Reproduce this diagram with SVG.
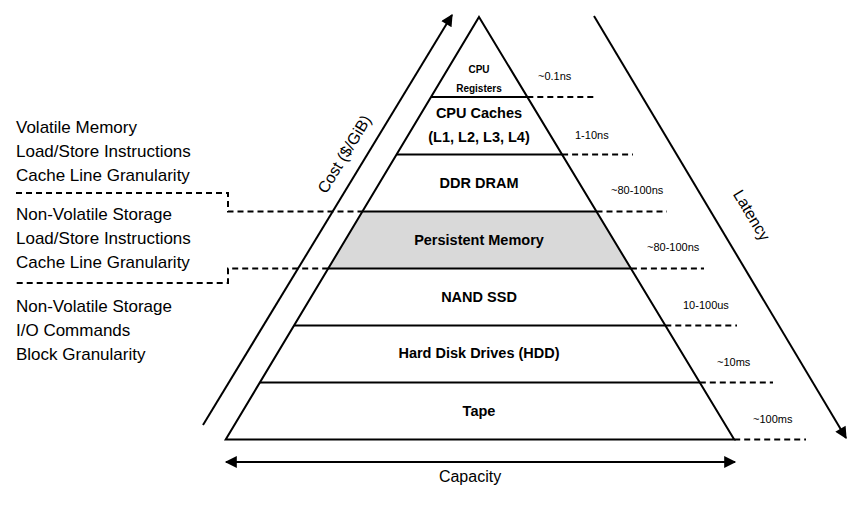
<svg xmlns="http://www.w3.org/2000/svg" width="860" height="507" viewBox="0 0 860 507">
<style>
.tier{fill:none;stroke:#000;stroke-width:2}
.dash{fill:none;stroke:#000;stroke-width:2;stroke-dasharray:6 4}
.axis{fill:none;stroke:#000;stroke-width:2}
.lbl{font-family:"Liberation Sans",Arial,sans-serif;font-size:14.5px;font-weight:bold;fill:#000;text-anchor:middle}
.sm{font-family:"Liberation Sans",Arial,sans-serif;font-size:10px;font-weight:bold;fill:#000;text-anchor:middle}
.lat{font-family:"Liberation Sans",Arial,sans-serif;font-size:11px;fill:#000}
.side{font-family:"Liberation Sans",Arial,sans-serif;font-size:17px;fill:#000}
.ax{font-family:"Liberation Sans",Arial,sans-serif;font-size:16px;fill:#000;text-anchor:middle}
</style>
<defs>
<marker id="ah" viewBox="0 0 10 10" refX="9" refY="5" markerWidth="7" markerHeight="6" markerUnits="strokeWidth" orient="auto-start-reverse">
<path d="M0,0 L10,5 L0,10 z" fill="#000"/>
</marker>
</defs>
<rect width="860" height="507" fill="#fff"/>

<g id="tier-pm-fill">
<polygon points="362.4,211.5 596.5,211.5 630.9,268.5 328.2,268.5" fill="#d9d9d9"/>
</g>

<g id="pyramid">
<polygon class="tier" points="479,17 734.2,439.5 225.7,439.5"/>
</g>

<g id="connectors">
<line class="tier" x1="431" y1="97" x2="527.3" y2="97"/>
<line class="tier" x1="396.6" y1="154.5" x2="562.1" y2="154.5"/>
<line class="tier" x1="362.4" y1="211.5" x2="596.5" y2="211.5"/>
<line class="tier" x1="328.2" y1="268.5" x2="630.9" y2="268.5"/>
<line class="tier" x1="294.1" y1="325.5" x2="665.3" y2="325.5"/>
<line class="tier" x1="259.9" y1="382.5" x2="699.8" y2="382.5"/>
<line class="dash" x1="527.3" y1="97" x2="597" y2="97"/>
<line class="dash" x1="562.1" y1="154.5" x2="633" y2="154.5"/>
<line class="dash" x1="596.5" y1="211.5" x2="667" y2="211.5"/>
<line class="dash" x1="630.9" y1="268.5" x2="704" y2="268.5"/>
<line class="dash" x1="665.3" y1="325.5" x2="737" y2="325.5"/>
<line class="dash" x1="699.8" y1="382.5" x2="773" y2="382.5"/>
<line class="dash" x1="734.2" y1="439.5" x2="806" y2="439.5"/>
<polyline class="dash" points="16,193 228,193 228,211.5 362.4,211.5"/>
<polyline class="dash" points="328.2,268.5 228,268.5 228,283 16,283"/>
<line class="axis" x1="203" y1="425" x2="452" y2="15" marker-end="url(#ah)"/>
<line class="axis" x1="594" y1="16" x2="846" y2="438" marker-end="url(#ah)"/>
<line class="axis" x1="226" y1="462" x2="735" y2="462" marker-start="url(#ah)" marker-end="url(#ah)"/>
</g>

<g id="node-registers">
<text class="sm" x="479" y="73">CPU</text>
<text class="sm" x="479" y="92">Registers</text>
</g>
<g id="node-caches">
<text class="lbl" x="479" y="118">CPU Caches</text>
<text class="lbl" x="479" y="142">(L1, L2, L3, L4)</text>
</g>
<g id="node-dram"><text class="lbl" x="479" y="188">DDR DRAM</text></g>
<g id="node-pmem"><text class="lbl" x="479" y="245">Persistent Memory</text></g>
<g id="node-ssd"><text class="lbl" x="479" y="302">NAND SSD</text></g>
<g id="node-hdd"><text class="lbl" x="479" y="358">Hard Disk Drives (HDD)</text></g>
<g id="node-tape"><text class="lbl" x="479" y="416">Tape</text></g>

<g id="latencies">
<text class="lat" x="538" y="80">~0.1ns</text>
<text class="lat" x="575" y="139">1-10ns</text>
<text class="lat" x="611" y="194">~80-100ns</text>
<text class="lat" x="647" y="251">~80-100ns</text>
<text class="lat" x="683" y="309">10-100us</text>
<text class="lat" x="717" y="366">~10ms</text>
<text class="lat" x="753" y="423">~100ms</text>
</g>

<g id="side-labels">
<text class="side" x="16" y="133">Volatile Memory</text>
<text class="side" x="16" y="157">Load/Store Instructions</text>
<text class="side" x="16" y="181">Cache Line Granularity</text>
<text class="side" x="16" y="220">Non-Volatile Storage</text>
<text class="side" x="16" y="244">Load/Store Instructions</text>
<text class="side" x="16" y="268">Cache Line Granularity</text>
<text class="side" x="16" y="312">Non-Volatile Storage</text>
<text class="side" x="16" y="336">I/O Commands</text>
<text class="side" x="16" y="360">Block Granularity</text>
</g>

<g id="axis-labels">
<text class="ax" transform="translate(349,157) rotate(-58.7)">Cost ($/GiB)</text>
<text class="ax" transform="translate(747,218) rotate(59)">Latency</text>
<text class="ax" x="470" y="482">Capacity</text>
</g>
</svg>
